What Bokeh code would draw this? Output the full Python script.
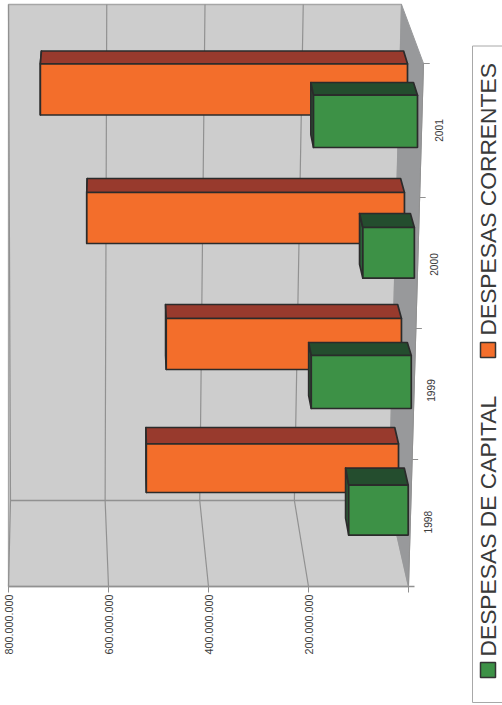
from bokeh.plotting import figure
from bokeh.models import Range1d
from bokeh.core.properties import value
from bokeh.embed import file_html
from bokeh.resources import INLINE
import math

# ---- data ----
years = ["1998", "1999", "2000", "2001"]
despesas_correntes = [520_000_000, 485_000_000, 655_000_000, 757_000_000]
despesas_capital = [119_000_000, 200_000_000, 103_000_000, 208_000_000]
value_ticks = [800_000_000, 600_000_000, 400_000_000, 200_000_000]
legend_names = ["DESPESAS DE CAPITAL", "DESPESAS CORRENTES"]

# ---- layout of the 3D view (screen pixels) ----
W, H = 502, 705
FLOOR_X0, FLOOR_K = 408.0, 0.5 / 1e6           # front edge scale: px per unit


def dx(px):
    """screen pixel -> value coordinate used by the x scale"""
    return (FLOOR_X0 - px) / FLOOR_K


def wall_x(v, x0, span):
    return x0 - v / 800e6 * span


OR_TOP = [443.3, 318, 192, 63.3]
OR_BOT = [492, 369, 243, 114.5]
OR_BACK = [427, 304, 178, 50.5]
GR_TOP = [484.7, 355, 227, 94.7]
GR_BOT = [534.7, 408, 277.7, 147]
GR_BACK = [467.7, 342, 213, 82]

GREY_WALL, GREY_FLOOR, GRID = "#cdcdcd", "#98999b", "#919191"
EDGE = "#2b2b2b"
FONT = value("Liberation Sans")

p = figure(width=W, height=H, x_range=Range1d(dx(0), dx(W)), y_range=Range1d(H, 0),
           output_backend="svg", toolbar_location=None, min_border=0,
           outline_line_color=None)
p.axis.visible = False
p.grid.visible = False

# walls and floor
p.patch([dx(x) for x in (8, 401, 388.5, 408, 8)], [4, 4, 500, 586, 586],
        fill_color=GREY_WALL, line_color="#a6a6a6", line_width=1.3)
p.patch([dx(x) for x in (401, 423, 408, 388.5)], [4, 63, 586, 500],
        fill_color=GREY_FLOOR, line_color=GREY_FLOOR, line_width=1)

# gridlines follow the value ticks across back wall and side wall
for v in value_ticks:
    p.line([dx(wall_x(v, 401, 393)), dx(wall_x(v, 388.5, 378.5)), dx(wall_x(v, 408, 400))],
           [4, 500, 586], line_color=GRID, line_width=1.2)
    p.segment(dx(wall_x(v, 408, 400)), 586, dx(wall_x(v, 408, 400)), 592, line_color=GRID, line_width=1)
    p.text([dx(wall_x(v, 408, 400))], [594], text=[f"{v:,}".replace(",", ".")], angle=math.pi / 2,
           text_align="right", text_baseline="middle", text_font=FONT,
           text_font_size="10.8px", text_color="#3c3c3c")
p.line([dx(10), dx(388.5)], [500, 500], line_color=GRID, line_width=1.4)
p.line([dx(8), dx(414)], [586, 586], line_color=GRID, line_width=1.6)
p.line([dx(8), dx(408), dx(423), dx(429)], [586, 586, 63, 63], line_color=GRID, line_width=1)

# category ticks and labels on the outer floor edge
TICK_Y = [459, 328, 197, 63]
LABEL_Y = [521.7, 390, 264, 130]
LABEL_X = [427.7, 430.5, 433.7, 438.3]
for i, y in enumerate(years):
    xe = 423 - (TICK_Y[i] - 63) * 15 / 523
    p.segment(dx(xe), TICK_Y[i], dx(xe + 6), TICK_Y[i], line_color=GRID, line_width=1)
    p.text([dx(LABEL_X[i])], [LABEL_Y[i]], text=[y], angle=math.pi / 2, text_align="center",
           text_baseline="middle", text_font=FONT, text_font_size="10.2px", text_color="#3c3c3c")
p.segment(dx(408), 586, dx(408), 592, line_color=GRID, line_width=1)


def back(x):
    return x - (0.0135 * x - 1.6)


def bar(v, top, bot, bk, x0, k, front, top_c, side):
    xr = x0
    xl = x0 - v * k
    depth = top - bk
    # left side face
    p.patch([dx(xl), dx(back(xl)), dx(back(xl)), dx(xl)], [top, bk, bot - depth, bot],
            fill_color=side, line_color=EDGE, line_width=1.7, line_join="round")
    # top face
    p.patch([dx(xl), dx(xr), dx(back(xr)), dx(back(xl))], [top, top, bk, bk],
            fill_color=top_c, line_color=EDGE, line_width=1.7, line_join="round")
    # front face
    p.quad(left=dx(xl), right=dx(xr), top=top, bottom=bot,
           fill_color=front, line_color=EDGE, line_width=1.7)


for i in range(4):
    mid = (OR_TOP[i] + OR_BOT[i]) / 2
    bar(despesas_correntes[i], OR_TOP[i], OR_BOT[i], OR_BACK[i],
        407 - (mid - 89) * 9 / 379, 0.485 / 1e6, "#f36e2b", "#983a2d", "#7a2e24")
for i in range(4):
    mid = (GR_TOP[i] + GR_BOT[i]) / 2
    bar(despesas_capital[i], GR_TOP[i], GR_BOT[i], GR_BACK[i],
        417 - (mid - 121) * 9.3 / 389, 0.5 / 1e6, "#3d9146", "#244d2e", "#2b5f37")

# legend
p.line([dx(503), dx(472), dx(472), dx(503)], [45.5, 45.5, 702, 702], line_color="#a8a8a8", line_width=1)
for name, colour, ytop, ybot, ytext in zip(legend_names, ["#3d9146", "#f36e2b"],
                                            [662, 342], [677, 357], [656, 335]):
    p.quad(left=dx(480), right=dx(495), top=ytop, bottom=ybot,
           fill_color=colour, line_color="#333333", line_width=1.5)
    p.text([dx(487.5)], [ytext], text=[name], angle=math.pi / 2, text_align="left",
           text_baseline="middle", text_font=FONT, text_font_size="22.8px", text_color="#3a3a3a")

open("out.html", "w").write(file_html(p, INLINE))
